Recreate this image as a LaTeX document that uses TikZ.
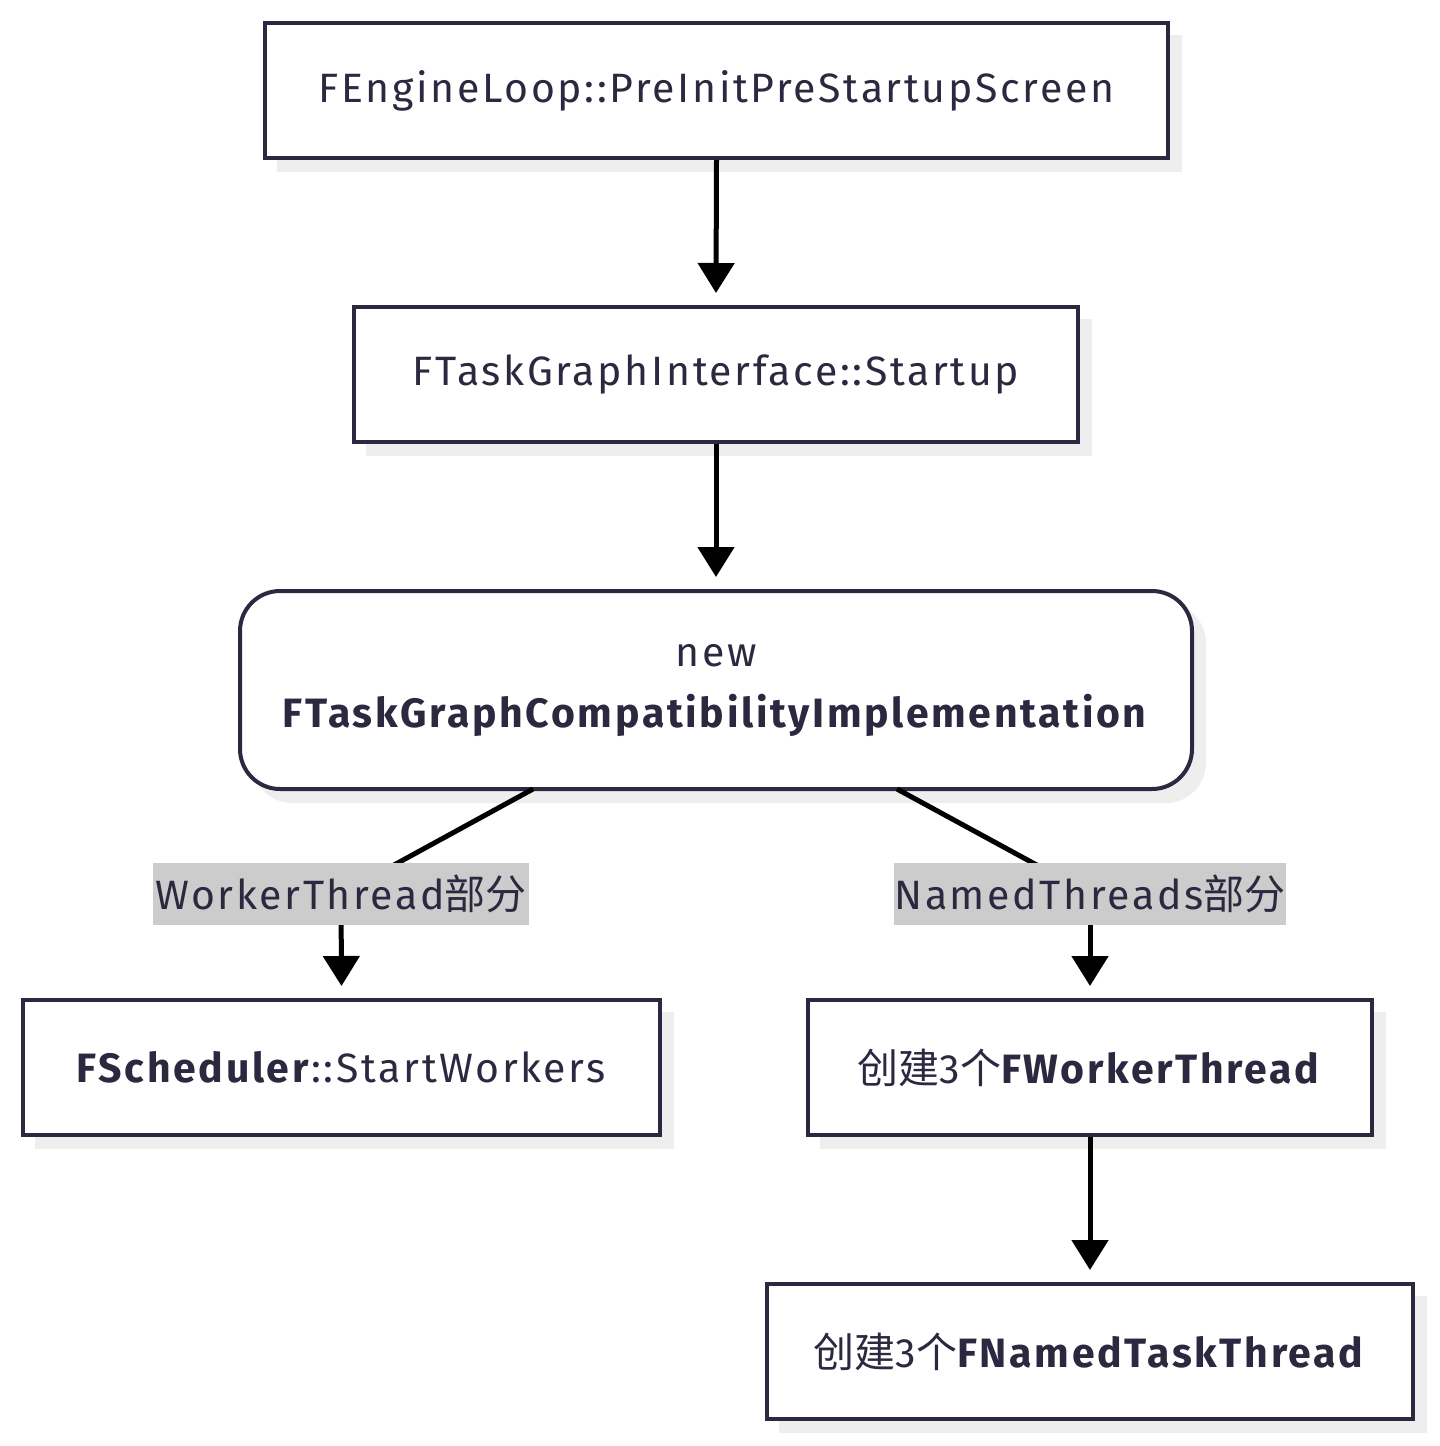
\documentclass[tikz,border=0pt]{standalone}
\usepackage{fontspec}
\setmainfont{Fira Sans}[LetterSpace=6.5]
\newfontfamily\cjk{Noto Sans CJK SC}
\usetikzlibrary{arrows.meta}
\definecolor{ink}{HTML}{2A2940}
\definecolor{shadowgray}{HTML}{EEEEEE}
\definecolor{lblbg}{HTML}{CCCCCC}
\tikzset{
  box/.style={draw=ink, line width=4pt, fill=white, text=ink, inner sep=0pt, font=\fontsize{41}{49}\selectfont, align=center},
  conn/.style={line width=5pt, draw=black, -{Triangle[length=30pt,width=36pt]}},
  connplain/.style={line width=5pt, draw=black},
  elabel/.style={fill=lblbg, text=ink, inner sep=0pt, font=\fontsize{41}{49}\selectfont}
}
\begin{document}
\begin{tikzpicture}[x=1pt,y=-1pt]
\useasboundingbox (0,0) rectangle (1440,1446);
% shadows
\fill[shadowgray] (277,35) rectangle (1182,172);
\fill[shadowgray] (366,319) rectangle (1092,456);
\fill[shadowgray, rounded corners=40pt] (252,603) rectangle (1206,803);
\fill[shadowgray] (35,1012) rectangle (674,1149);
\fill[shadowgray] (820,1012) rectangle (1386,1149);
\fill[shadowgray] (779,1296) rectangle (1427,1433);
% nodes
\node[box, minimum width=903pt, minimum height=135pt] (a) at (716.5,90.5) {FEngineLoop::PreInitPreStartupScreen};
\node[box, minimum width=724pt, minimum height=135pt] (b) at (716,374.5) {FTaskGraphInterface::Startup};
\node[box, rounded corners=40pt, minimum width=952pt, minimum height=198pt] (c) at (716,690) {new\\[12pt]\textbf{FTaskGraphCompatibilityImplementation}};
\node[box, minimum width=637pt, minimum height=135pt] (d) at (341.5,1067.5) {\textbf{FScheduler}::StartWorkers};
\node[box, minimum width=564pt, minimum height=135pt] (e) at (1090,1067.5) {{\cjk 创建}3{\cjk 个}\textbf{FWorkerThread}};
\node[box, minimum width=646pt, minimum height=135pt] (f) at (1090,1351.5) {{\cjk 创建}3{\cjk 个}\textbf{FNamedTaskThread}};
% connectors
\coordinate (c1) at (533,789);
\coordinate (c2) at (897,789);
\coordinate (lw) at (341,894);
\coordinate (ln) at (1090,894);
\draw[conn] (a.south) -- ([yshift=12pt]b.north);
\draw[conn] (b.south) -- ([yshift=12pt]c.north);
\draw[connplain] (c1) -- (lw);
\draw[conn] (lw) -- ([yshift=12pt]d.north);
\draw[connplain] (c2) -- (ln);
\draw[conn] (ln) -- ([yshift=12pt]e.north);
\draw[conn] (e.south) -- ([yshift=12pt]f.north);
% edge labels
\node[elabel, minimum width=376pt, minimum height=62pt] (lwt) at (lw) {WorkerThread{\cjk 部分}};
\node[elabel, minimum width=388pt, minimum height=62pt] (lnt) at (ln) {NamedThreads{\cjk 部分}};
\end{tikzpicture}
\end{document}
